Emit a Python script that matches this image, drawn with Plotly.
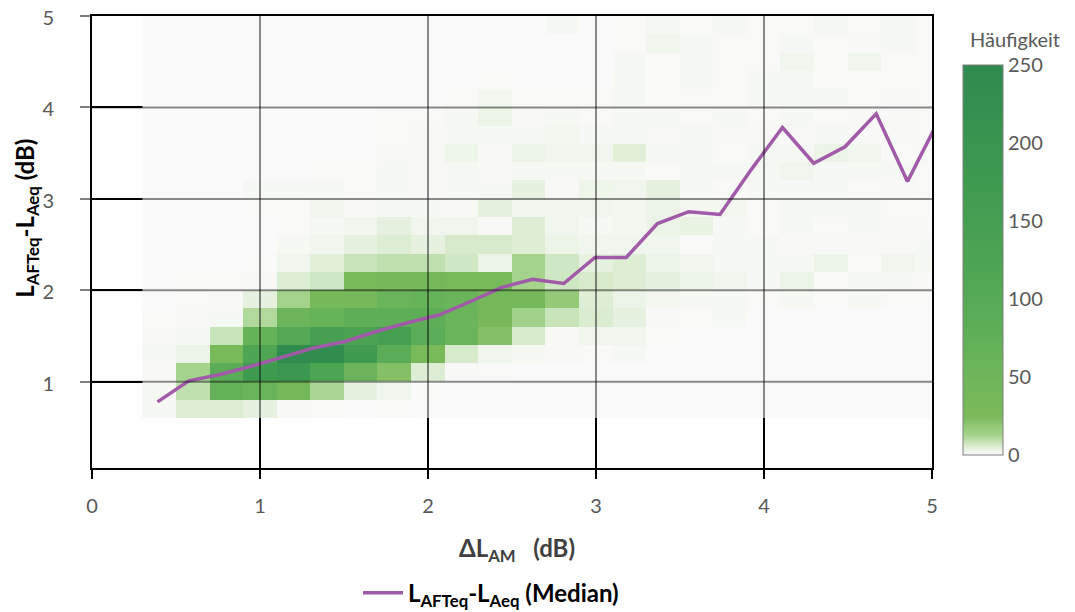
import plotly.graph_objects as go

# heatmap bins (centres, dB)
x_centers = [0.4, 0.6, 0.8, 1.0, 1.2, 1.4, 1.6, 1.8, 2.0, 2.2, 2.4, 2.6,
             2.8, 3.0, 3.2, 3.4, 3.6, 3.8, 4.0, 4.2, 4.4, 4.6, 4.8, 5.0]
y_centers = [0.7, 0.9, 1.1, 1.3, 1.5, 1.7, 1.9, 2.1, 2.3, 2.5, 2.7, 2.9,
             3.1, 3.3, 3.5, 3.7, 3.9, 4.1, 4.3, 4.5, 4.7, 4.9]

# counts (Häufigkeit), one row per y bin, bottom to top
counts = [
    [1, 5, 5, 4, 0.5, 0.3, 0.2, 0.3, 0, 0, 0, 0, 0, 0, 0, 0, 0, 0, 0, 0, 0, 0, 0, 0],
    [1, 9, 70, 62, 35, 12, 4, 2, 0.3, 0, 0, 0, 0, 0, 0, 0, 0, 0, 0, 0, 0, 0, 0, 0],
    [0.5, 13, 88, 172, 185, 125, 58, 22, 5, 0.5, 0.3, 0, 0, 0, 0, 0, 0, 0, 0, 0, 0, 0, 0, 0],
    [1, 3, 30, 120, 240, 235, 170, 90, 30, 6, 2, 1, 0.5, 0.3, 0.8, 0.2, 0.2, 0.2, 0.2, 0.2, 0.2, 0.2, 0.2, 0.2],
    [0.5, 1, 8, 68, 105, 145, 130, 150, 90, 60, 22, 6, 0.5, 2, 2, 0.3, 0.2, 0.2, 0.2, 0.2, 0.2, 0.2, 0.2, 0.2],
    [0.3, 0.5, 1, 11, 55, 65, 80, 80, 80, 60, 32, 14, 8, 5.5, 4, 0.5, 0.3, 1, 0.2, 0.2, 0.2, 0.2, 0.2, 0.2],
    [0, 0.3, 0.5, 4, 13, 33, 31, 60, 65, 60, 38, 35, 18, 5, 3, 1.5, 1, 1, 0.3, 1, 0.3, 1, 0.3, 0.3],
    [0, 0.3, 0.3, 0.5, 5, 7, 30, 32, 35, 30, 30, 13, 7, 6, 5, 4, 3, 2, 0.8, 3, 0.3, 0.8, 1, 0.5],
    [0, 0, 0, 0.3, 2, 4.5, 8, 9, 9, 7, 3, 13, 7, 4, 5, 3, 2, 1, 1, 1, 3, 0.3, 2, 1],
    [0, 0, 0, 0, 1, 2, 4, 5, 4, 6, 6, 5, 3, 2, 2, 2, 0.3, 0.8, 1, 0.5, 0.5, 0.5, 0.5, 0.8],
    [0, 0, 0, 0, 0.3, 1, 2, 4, 2, 2, 0.5, 5, 2, 1, 1.5, 3, 3.5, 0.8, 0.3, 0.8, 0.3, 1, 0.5, 0.5],
    [0, 0, 0, 0.3, 0.3, 2, 0.5, 1, 1, 0.5, 4, 2, 2, 2, 1.5, 3, 1.5, 1.5, 0.3, 1, 0.8, 1, 0.3, 0.3],
    [0, 0, 0, 0.8, 0.8, 0.8, 0.3, 1, 0.5, 1, 1, 4, 0.5, 2.5, 2, 4, 0.8, 0.3, 1, 0.8, 1, 0.3, 0.5, 0.3],
    [0, 0, 0, 0.2, 0.2, 0.3, 0.3, 1, 0.5, 1, 0.5, 1, 1, 1, 1, 0.3, 1, 0.8, 1, 2, 0.8, 1, 1, 0.3],
    [0, 0, 0, 0.2, 0.2, 0.2, 0.2, 0.5, 0.5, 2.5, 0.5, 3, 2, 2, 4.5, 1, 0.8, 0.3, 1, 0.8, 3, 2, 0.3, 0.5],
    [0, 0, 0, 0.2, 0.2, 0.2, 0.2, 0.3, 0.5, 1, 1, 1, 1.5, 0.8, 1, 0.5, 1, 0.5, 0.5, 0.5, 0.8, 0.5, 0.5, 0.3],
    [0, 0, 0, 0.2, 0.2, 0.2, 0.2, 0.3, 0.3, 1, 3, 0.5, 1, 0.3, 0.8, 0.8, 0.3, 1, 0.3, 1, 0.3, 0.5, 0.5, 0.3],
    [0, 0, 0, 0.2, 0.2, 0.2, 0.2, 0.2, 0.2, 0.3, 1.5, 0.3, 0.3, 0.3, 1, 0.3, 0.3, 0.3, 1, 0.8, 1, 0.3, 0.5, 0.3],
    [0, 0, 0, 0.2, 0.2, 0.2, 0.2, 0.2, 0.2, 0.2, 0.3, 0.2, 0.2, 0.2, 1, 0.3, 0.8, 0.3, 0.8, 0.8, 0.3, 0.3, 0.3, 0.3],
    [0, 0, 0, 0.2, 0.2, 0.2, 0.2, 0.2, 0.2, 0.2, 0.2, 0.2, 0.2, 0.2, 0.8, 0.3, 1, 0.3, 0.3, 2, 0.3, 2, 0.3, 0.3],
    [0, 0, 0, 0.2, 0.2, 0.2, 0.2, 0.2, 0.2, 0.2, 0.2, 0.2, 0.2, 0.2, 0.3, 2, 0.8, 0.3, 0.3, 0.8, 0.3, 0.5, 1, 0.3],
    [0, 0, 0, 0.2, 0.2, 0.2, 0.2, 0.2, 0.2, 0.2, 0.2, 0.2, 1, 0.2, 0.3, 1, 0.3, 0.8, 0.3, 0.3, 0.8, 0.3, 1, 0.3],
]

# median line
median_x = [0.39, 0.576, 0.762, 0.948, 1.134, 1.32, 1.506, 1.692, 1.878, 2.064,
            2.25, 2.436, 2.622, 2.808, 2.994, 3.18, 3.366, 3.552, 3.738, 3.924,
            4.11, 4.296, 4.482, 4.668, 4.854, 5.04]
median_y = [0.78, 1.01, 1.08, 1.17, 1.27, 1.37, 1.44, 1.55, 1.645, 1.73,
            1.875, 2.03, 2.12, 2.075, 2.36, 2.36, 2.73, 2.86, 2.83, 3.32,
            3.78, 3.39, 3.57, 3.93, 3.19, 3.86]

x_ticks = [0, 1, 2, 3, 4, 5]
y_ticks = [1, 2, 3, 4, 5]
cbar_ticks = [0, 50, 100, 150, 200, 250]

FONT = "Lato"
GRAY = "#595959"

colorscale = [
    [0.0, "#fafafa"], [0.016, "#e6f2df"], [0.05, "#a6d48e"], [0.1, "#7aba5a"],
    [0.24, "#6ab45b"], [0.32, "#5eae57"], [0.48, "#4ea553"], [0.68, "#3f9b50"],
    [1.0, "#2e8a4e"],
]

fig = go.Figure()
fig.add_trace(go.Heatmap(
    x=x_centers, y=y_centers, z=counts, zmin=0, zmax=250,
    colorscale=colorscale, showlegend=False, hoverinfo="skip",
    colorbar=dict(
        tickvals=cbar_ticks, ticks="", tickfont=dict(family=FONT, size=20, color=GRAY),
        thickness=40, len=390, lenmode="pixels", x=1.037, xanchor="left",
        y=0.46, yanchor="middle", outlinecolor="#7f7f7f", outlinewidth=1,
        ypad=0, xpad=0,
    ),
))
fig.add_trace(go.Scatter(
    x=median_x, y=median_y, mode="lines",
    line=dict(color="#a05aa8", width=3.5),
    name="<b>L<sub>AFTeq</sub>-L<sub>Aeq</sub> (Median)</b>",
))

# grid lines drawn over the heatmap, semi-transparent
for xv in x_ticks[1:-1]:
    fig.add_shape(type="line", xref="x", yref="paper", x0=xv, x1=xv, y0=0, y1=1,
                  line=dict(color="rgba(0,0,0,0.45)", width=2), layer="above")
for yv in y_ticks[:-1]:
    fig.add_shape(type="line", xref="paper", yref="y", x0=0, x1=1, y0=yv, y1=yv,
                  line=dict(color="rgba(0,0,0,0.45)", width=2), layer="above")

fig.update_xaxes(
    range=[0, 5], tickvals=x_ticks, showgrid=True, gridcolor="black", gridwidth=2,
    showline=True, linecolor="black", linewidth=2, mirror=True,
    ticks="outside", ticklen=9, tickwidth=2, tickcolor="black",
    tickfont=dict(family=FONT, size=20, color=GRAY), ticklabelstandoff=10,
    ticklabeloverflow="allow", zeroline=False, automargin=False,
)
fig.update_yaxes(
    range=[0.057, 5], tickvals=y_ticks, showgrid=True, gridcolor="black", gridwidth=2,
    showline=True, linecolor="black", linewidth=2, mirror=True,
    ticks="outside", ticklen=10, tickwidth=1.5, tickcolor="#808080",
    tickfont=dict(family=FONT, size=20, color=GRAY), ticklabelstandoff=22,
    ticklabelshift=2, ticklabeloverflow="allow", zeroline=False, automargin=False,
)

fig.add_annotation(
    text="<b>ΔL<sub>AM</sub>&nbsp;&nbsp;&nbsp;(dB)</b>", xref="paper", yref="paper",
    x=0.506, y=-0.181, xanchor="center", yanchor="middle", showarrow=False,
    font=dict(family=FONT, size=24, color="#404040"),
)
fig.add_annotation(
    text="<b>L<sub>AFTeq</sub>-L<sub>Aeq</sub> (dB)</b>", xref="paper", yref="paper",
    x=-0.079, y=0.553, xanchor="center", yanchor="middle", textangle=-90, showarrow=False,
    font=dict(family=FONT, size=24, color="black"),
)
fig.add_annotation(
    text="Häufigkeit", xref="paper", yref="paper",
    x=1.099, y=0.950, xanchor="center", yanchor="middle", showarrow=False,
    font=dict(family=FONT, size=20, color=GRAY),
)

# the page body adds an 8 px offset; the figure is sized to compensate
fig.update_layout(
    width=1067, height=604,
    margin=dict(l=84, r=143, t=8, b=144, autoexpand=False),
    plot_bgcolor="white", paper_bgcolor="white",
    font=dict(family=FONT),
    showlegend=True,
    legend=dict(orientation="h", x=0.475, y=-0.277, xanchor="center", yanchor="middle",
                itemwidth=40,
                font=dict(family=FONT, size=24, color="black"), bgcolor="rgba(0,0,0,0)"),
)

fig.write_html("out.html")
